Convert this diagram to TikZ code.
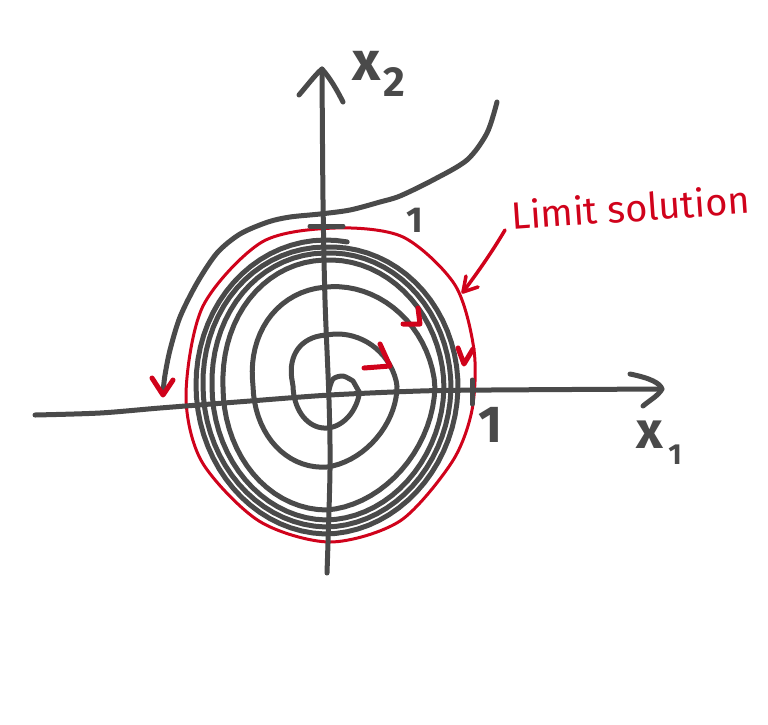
\documentclass[tikz,border=0pt]{standalone}
\usepackage{fontspec}
\newfontfamily\hand{Fira Sans}
\definecolor{ink}{HTML}{4A4A4A}
\definecolor{lim}{HTML}{D0021B}
\begin{document}
\begin{tikzpicture}[x=1pt,y=-1pt,line cap=round,line join=round,
  graystroke/.style={draw=ink,line width=5pt},
  redstroke/.style={draw=lim,line width=5pt},
  limitcurve/.style={draw=lim,line width=3pt},
  glabel/.style={text=ink,inner sep=0pt},
  rlabel/.style={text=lim,inner sep=0pt},
  declare function={
    ax(\s)=33+\s+35*max(\s-1,0)-32*max(\s-2,0)+30*max(\s-3,0)-38*max(\s-4,0)
      +17*max(\s-5,0)-15*max(\s-6,0)+11*max(\s-7,0)-9*max(\s-8,0)
      +7*max(\s-9,0)-7*max(\s-10,0)+max(\s-11,0);
    by(\s)=43+7*(\s-0.5)+25*max(\s-1.5,0)-16*max(\s-2.5,0)+11*max(\s-3.5,0)
      -27*max(\s-4.5,0)+10*max(\s-5.5,0)-13*max(\s-6.5,0)+13*max(\s-7.5,0)
      -14*max(\s-8.5,0)+15*max(\s-9.5,0)-15*max(\s-10.5,0);
  }]
\useasboundingbox (0,0) rectangle (768,724);

% limit cycle (red)
\draw[limitcurve] plot[smooth cycle] coordinates {
  (335,228) (403,237) (455,285) (474,350) (472,410) (452,462) (400,521)
  (330,542) (259,521) (202,462) (186,395) (203,306) (262,242)};

% spiral from the inside
\draw[graystroke] plot[smooth] coordinates {(329,390) (333,379) (343,376) (353,381)}
  -- plot[domain=0.06:11.55,samples=420,variable=\s]
     ({327+ax(\s)*cos(180*\s)},{385+by(\s)*sin(180*\s)});

% trajectory from the outside
\draw[graystroke] plot[smooth] coordinates {
  (497,102) (487,133) (467,160) (433,180) (400,196) (380,202) (350,210)
  (320,214) (290,217) (268,222) (240,234) (217,253) (197,283) (180,317)
  (170,350) (165,375) (163,392)};

% axes
\coordinate (xaxL) at (35,415);
\coordinate (xaxR) at (662,389);
\coordinate (yaxB) at (327,573);
\coordinate (yaxT) at (322,69);
\draw[graystroke] plot[smooth] coordinates {(xaxL) (100,413) (160,408) (250,401) (330,395) (420,391) (490,390) (xaxR)};
\draw[graystroke] (630,374) .. controls (650,378) and (660,383) .. (xaxR) .. controls (658,396) and (650,400) .. (643,406);
\draw[graystroke] plot[smooth] coordinates {(yaxB) (330,470) (329,400) (325,300) (323,200) (yaxT)};
\draw[graystroke] (299,95) .. controls (310,82) and (316,74) .. (yaxT) .. controls (330,78) and (337,90) .. (343,102);

% ticks
\draw[graystroke] (310,226) -- (343,226);
\draw[graystroke] (472,380) -- (472,404);

% red direction arrows
\draw[redstroke] (364,368) -- (390,366) -- (380,344);
\draw[redstroke] (403,324) -- (420,324) -- (418,308);
\draw[redstroke] (458,348) -- (464,364) -- (473,349);
\draw[redstroke] (152,378) -- (163,395) -- (173,380);

% labels
\node[glabel,font=\hand\bfseries\fontsize{55}{55}\selectfont] (x2) at (367,66) {x};
\node[glabel,font=\hand\bfseries\fontsize{42}{42}\selectfont] (x2s) at (394,82) {2};
\node[glabel,font=\hand\bfseries\fontsize{52}{52}\selectfont] (x1) at (650,435) {x};
\node[glabel,font=\hand\bfseries\fontsize{29}{29}\selectfont] (x1s) at (675,455) {1};
\node[glabel,font=\hand\bfseries\fontsize{36}{36}\selectfont] (oneY) at (415,220) {1};
\node[glabel,font=\hand\bfseries\fontsize{52}{52}\selectfont] (oneX) at (491,425) {1};

% limit solution label and pointer
\node[rlabel,font=\hand\fontsize{38}{38}\selectfont,rotate=4,anchor=base west] (limtxt) at (512,230) {Limit solution};
\coordinate (limpt) at (463,292);
\draw[draw=lim,line width=3.5pt] (505,230) .. controls (492,252) and (478,272) .. (limpt);
\draw[draw=lim,line width=3.5pt] (466,276) -- (limpt) -- (478,287);
\end{tikzpicture}
\end{document}
